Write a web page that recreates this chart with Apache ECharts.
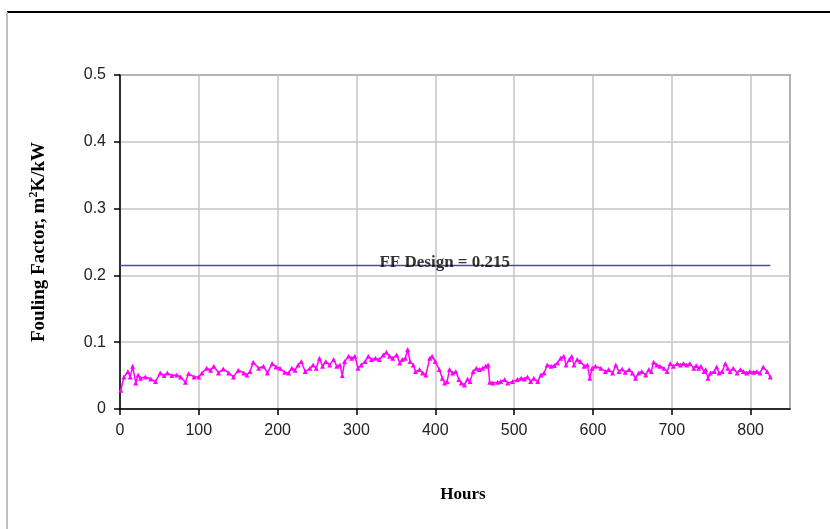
<!DOCTYPE html>
<html>
<head>
<meta charset="utf-8">
<script src="https://cdn.jsdelivr.net/npm/echarts@6/dist/echarts.min.js"></script>
<style>html,body{margin:0;padding:0;background:#fff}#c{width:830px;height:529px}</style>
</head>
<body>
<div id="c"></div>
<script>
const hours = [1,5,10,13,16,20,23,26,32,39,45,51,56,60,66,72,77,83,87,94,100,104,110,115,119,125,131,138,144,150,157,161,165,169,176,182,187,193,198,203,209,214,218,222,226,230,235,241,245,249,253,257,261,266,271,275,279,282,285,290,294,298,302,306,311,315,319,324,329,334,338,342,346,351,355,358,362,365,368,372,375,380,384,388,393,396,400,405,409,412,415,418,422,426,430,433,437,441,444,448,452,456,460,464,467,469,473,479,483,488,492,498,504,509,513,517,521,525,530,534,538,542,547,551,555,559,563,566,570,573,576,580,584,589,593,596,599,603,610,616,620,625,629,633,637,641,646,650,654,658,662,667,671,674,677,681,685,690,694,698,702,707,711,715,719,723,728,731,734,737,741,743,746,749,754,757,760,764,768,771,774,778,783,787,791,795,799,804,808,812,816,821,825];
const foulingFactor = [0.028,0.048,0.056,0.048,0.064,0.039,0.051,0.046,0.048,0.045,0.041,0.054,0.050,0.054,0.050,0.051,0.048,0.040,0.053,0.048,0.048,0.054,0.061,0.058,0.064,0.054,0.060,0.054,0.048,0.058,0.054,0.051,0.056,0.070,0.061,0.064,0.054,0.068,0.063,0.061,0.055,0.054,0.061,0.058,0.066,0.071,0.056,0.061,0.066,0.061,0.076,0.064,0.071,0.066,0.074,0.064,0.066,0.050,0.071,0.079,0.076,0.079,0.061,0.066,0.071,0.079,0.074,0.076,0.074,0.081,0.085,0.079,0.076,0.081,0.069,0.074,0.076,0.089,0.071,0.066,0.056,0.059,0.054,0.051,0.076,0.079,0.071,0.059,0.046,0.039,0.041,0.059,0.054,0.056,0.044,0.039,0.036,0.045,0.041,0.056,0.061,0.059,0.061,0.064,0.066,0.040,0.039,0.040,0.041,0.044,0.039,0.041,0.044,0.046,0.045,0.048,0.041,0.046,0.041,0.051,0.054,0.066,0.064,0.065,0.069,0.076,0.079,0.066,0.074,0.079,0.066,0.074,0.071,0.064,0.066,0.046,0.061,0.064,0.061,0.056,0.059,0.054,0.066,0.056,0.060,0.055,0.059,0.054,0.046,0.054,0.056,0.051,0.059,0.056,0.070,0.066,0.064,0.061,0.056,0.068,0.064,0.068,0.066,0.068,0.066,0.068,0.061,0.065,0.061,0.064,0.056,0.059,0.046,0.054,0.056,0.063,0.054,0.056,0.068,0.061,0.056,0.061,0.054,0.059,0.056,0.054,0.056,0.055,0.056,0.054,0.063,0.056,0.048];
const designHours = [0, 825];
const designValue = 0.215;
const designLabelHour = 412;
const designLabel = 'FF Design = 0.215';
const xTicks = [0,100,200,300,400,500,600,700,800];
const yTicks = [0,0.1,0.2,0.3,0.4,0.5];
const xTitle = 'Hours';

const chart = echarts.init(document.getElementById('c'), null, {renderer:'canvas'});
const serif = "'Liberation Serif','Times New Roman',serif";
const sans = "'Liberation Sans',Arial,sans-serif";
chart.setOption({
  animation:false,
  backgroundColor:'#fff',
  graphic:[
    {type:'line', shape:{x1:7,y1:12,x2:830,y2:12}, style:{stroke:'#000',lineWidth:2}},
    {type:'line', shape:{x1:7,y1:12,x2:7,y2:529}, style:{stroke:'#aaa',lineWidth:1.5}}
  ],
  grid:{left:120, top:75, right:40, bottom:120, show:true, borderColor:'#555', borderWidth:1.5, backgroundColor:'#fff'},
  xAxis:{
    type:'value', min:0, max:850, interval:100,
    axisLine:{show:true, onZero:false, lineStyle:{color:'#000', width:1.5}},
    axisTick:{show:true, length:6, lineStyle:{color:'#000', width:1.5}},
    axisLabel:{fontFamily:sans, fontSize:16, color:'#222', margin:14,
      showMaxLabel:false,
      formatter:v=> xTicks.includes(v) ? String(v) : ''},
    splitLine:{show:true, lineStyle:{color:'#c4c4c4', width:1.5}},
    name:xTitle, nameLocation:'middle', nameGap:77,
    nameTextStyle:{fontFamily:serif, fontWeight:'bold', fontSize:17, color:'#000', padding:[0,0,0,16]}
  },
  yAxis:{
    type:'value', min:0, max:0.5, interval:0.1,
    axisLine:{show:true, lineStyle:{color:'#000', width:1.5}},
    axisTick:{show:true, length:6, lineStyle:{color:'#000', width:1.5}},
    axisLabel:{fontFamily:sans, fontSize:16, color:'#222', margin:14,
      formatter:v=> { const t = yTicks.find(k=>Math.abs(k-v)<1e-9); return t===0 ? '0' : (t!==undefined ? t.toFixed(1) : ''); }},
    splitLine:{show:true, lineStyle:{color:'#c4c4c4', width:1.5}},
    name:'{a|Fouling Factor, m}{s|2}{a|K/kW}', nameLocation:'middle', nameGap:70, nameRotate:90,
    nameTextStyle:{rich:{
      a:{fontFamily:serif, fontWeight:'bold', fontSize:19, color:'#000'},
      s:{fontFamily:serif, fontWeight:'bold', fontSize:12, color:'#000', verticalAlign:'top', padding:[0,0,10,0]}
    }}
  },
  series:[
    {
      type:'line', data:designHours.map(h=>[h, designValue]),
      symbol:'none', lineStyle:{color:'#4a4aa8', width:1.5}, z:3
    },
    {
      type:'scatter', data:[[designLabelHour, designValue]], symbolSize:0,
      label:{show:true, position:'inside', offset:[0,-3], formatter:designLabel,
        fontFamily:serif, fontWeight:'bold', fontSize:17, color:'#000'}, z:4
    },
    {
      type:'line', data:hours.map((h,i)=>[h, foulingFactor[i]]),
      symbol:'triangle', symbolSize:5, showSymbol:true,
      lineStyle:{color:'#ff00ff', width:1.5},
      itemStyle:{color:'#ff00ff'}, z:5
    }
  ]
});
</script>
</body>
</html>
